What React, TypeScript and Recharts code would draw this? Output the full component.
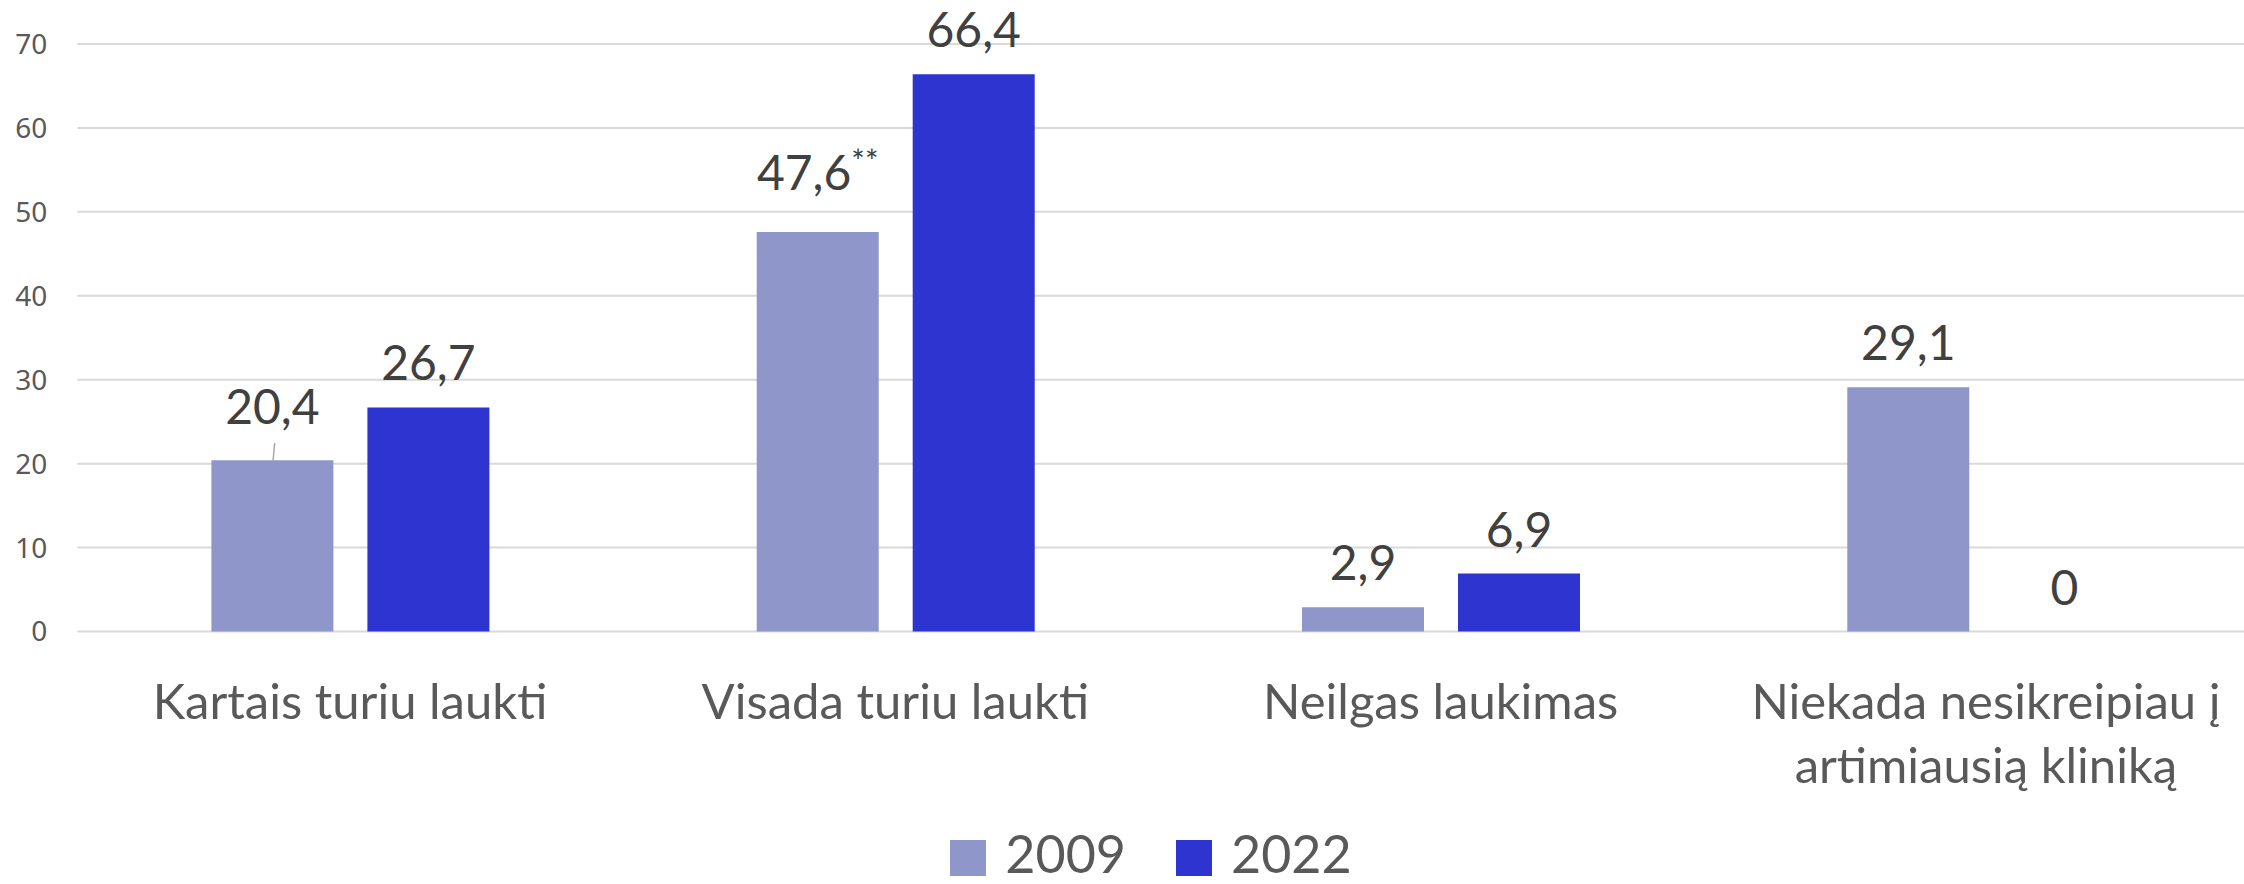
import { BarChart, Bar, XAxis, YAxis, CartesianGrid, Legend, LabelList, Cell } from 'recharts';

// Category labels (a "\n" breaks the label onto a second line)
const categories = [
  'Kartais turiu laukti',
  'Visada turiu laukti',
  'Neilgas laukimas',
  'Niekada nesikreipiau į\nartimiausią kliniką',
];
const values2009 = [20.4, 47.6, 2.9, 29.1];
const values2022 = [26.7, 66.4, 6.9, 0];
const notes2009 = ['', '**', '', ''];
const notes2022 = ['', '', '', ''];
const yTicks = [0, 10, 20, 30, 40, 50, 60, 70];

const data = categories.map((category, i) => ({
  category,
  v2009: values2009[i],
  v2022: values2022[i],
}));

const COLOR_2009 = '#8E96CA';
const COLOR_2022 = '#2E34CF';
const TEXT_GRAY = '#595959';
const LABEL_GRAY = '#404040';

// a couple of labels were nudged up by hand in the original
const lift2009 = [9, 15, 0, 0];
const lift2022 = [0, 0, 0, 0];

const fmt = (v: number) => String(v).replace('.', ',');

// zero bars get a hairline height so their label is still drawn
const minSize = (v: any) => (Number(v) === 0 ? 1 : 0);

const makeLabel = (notes: string[], lifts: number[], leader: number) => (props: any) => {
  const { x, y, width, height, value, index } = props;
  const cx = Number(x) + Number(width) / 2;
  // base the label on the real value top (ignore the hairline of zero bars)
  const top = Number(value) === 0 ? Number(y) + Number(height) : Number(y);
  const lift = lifts[index] ?? 0;
  const note = notes[index];
  return (
    <g>
      {index === leader && (
        <line x1={cx + 2.3} y1={top - 17.4} x2={cx + 0.7} y2={top} stroke="#A6A6A6" strokeWidth={1.5} />
      )}
      <text x={cx} y={top - 27 - lift} textAnchor="middle" fill={LABEL_GRAY} fontSize={48} fontFamily="Lato">
        {fmt(value)}
        {note && (
          <tspan fontSize={32} dy={-17}>
            {note}
          </tspan>
        )}
      </text>
    </g>
  );
};

const XTick = (props: any) => {
  const { x, y, payload } = props;
  const lines = String(payload.value).split('\n');
  return (
    <text x={x} y={y} textAnchor="middle" fill={TEXT_GRAY} fontSize={49} fontFamily="Lato">
      {lines.map((line, i) => (
        <tspan key={i} x={x} dy={i === 0 ? 85.5 : 64}>
          {line}
        </tspan>
      ))}
    </text>
  );
};

const LegendContent = (props: any) => {
  const { payload = [] } = props;
  return (
    <div
      style={{
        display: 'flex',
        justifyContent: 'center',
        alignItems: 'flex-end',
        height: 64,
        fontFamily: 'Lato',
        fontSize: 52,
        color: TEXT_GRAY,
      }}
    >
      {payload.map((entry: any, i: number) => (
        <div key={i} style={{ display: 'flex', alignItems: 'flex-end', marginLeft: i ? 50 : 0 }}>
          <span
            style={{
              width: 36,
              height: 36,
              background: entry.color,
              marginRight: 19,
              marginBottom: 8,
              display: 'inline-block',
            }}
          />
          <span style={{ lineHeight: '62px', display: 'inline-block' }}>{entry.value}</span>
        </div>
      ))}
    </div>
  );
};

export default function App() {
  return (
    <div
      style={{
        position: 'absolute',
        left: 0,
        top: 0,
        width: 2244,
        height: 884,
        overflow: 'hidden',
        background: '#fff',
      }}
    >
      <BarChart
        width={2280}
        height={884}
        data={data}
        margin={{ top: 44, right: 21.4, left: 0, bottom: 0 }}
        barGap={34}
        barSize={122}
      >
        <CartesianGrid vertical={false} stroke="#D9D9D9" strokeWidth={2} />
        <XAxis
          dataKey="category"
          height={188.5}
          tickLine={false}
          axisLine={false}
          tickSize={0}
          interval={0}
          tick={<XTick />}
        />
        <YAxis
          width={77.4}
          domain={[0, 70]}
          ticks={yTicks}
          interval={0}
          tickLine={false}
          axisLine={false}
          tickSize={0}
          tickMargin={30}
          tick={{ fill: TEXT_GRAY, fontSize: 28, fontFamily: 'Noto Sans' }}
        />
        <Legend
          verticalAlign="bottom"
          content={<LegendContent />}
          wrapperStyle={{ left: 0, width: 2302, bottom: 0 }}
        />
        <Bar dataKey="v2009" name="2009" fill={COLOR_2009} isAnimationActive={false}>
          <LabelList dataKey="v2009" content={makeLabel(notes2009, lift2009, 0)} />
        </Bar>
        <Bar dataKey="v2022" name="2022" fill={COLOR_2022} minPointSize={minSize} isAnimationActive={false}>
          {values2022.map((v, i) => (
            <Cell key={i} fill={v === 0 ? 'none' : COLOR_2022} />
          ))}
          <LabelList dataKey="v2022" content={makeLabel(notes2022, lift2022, -1)} />
        </Bar>
      </BarChart>
    </div>
  );
}
